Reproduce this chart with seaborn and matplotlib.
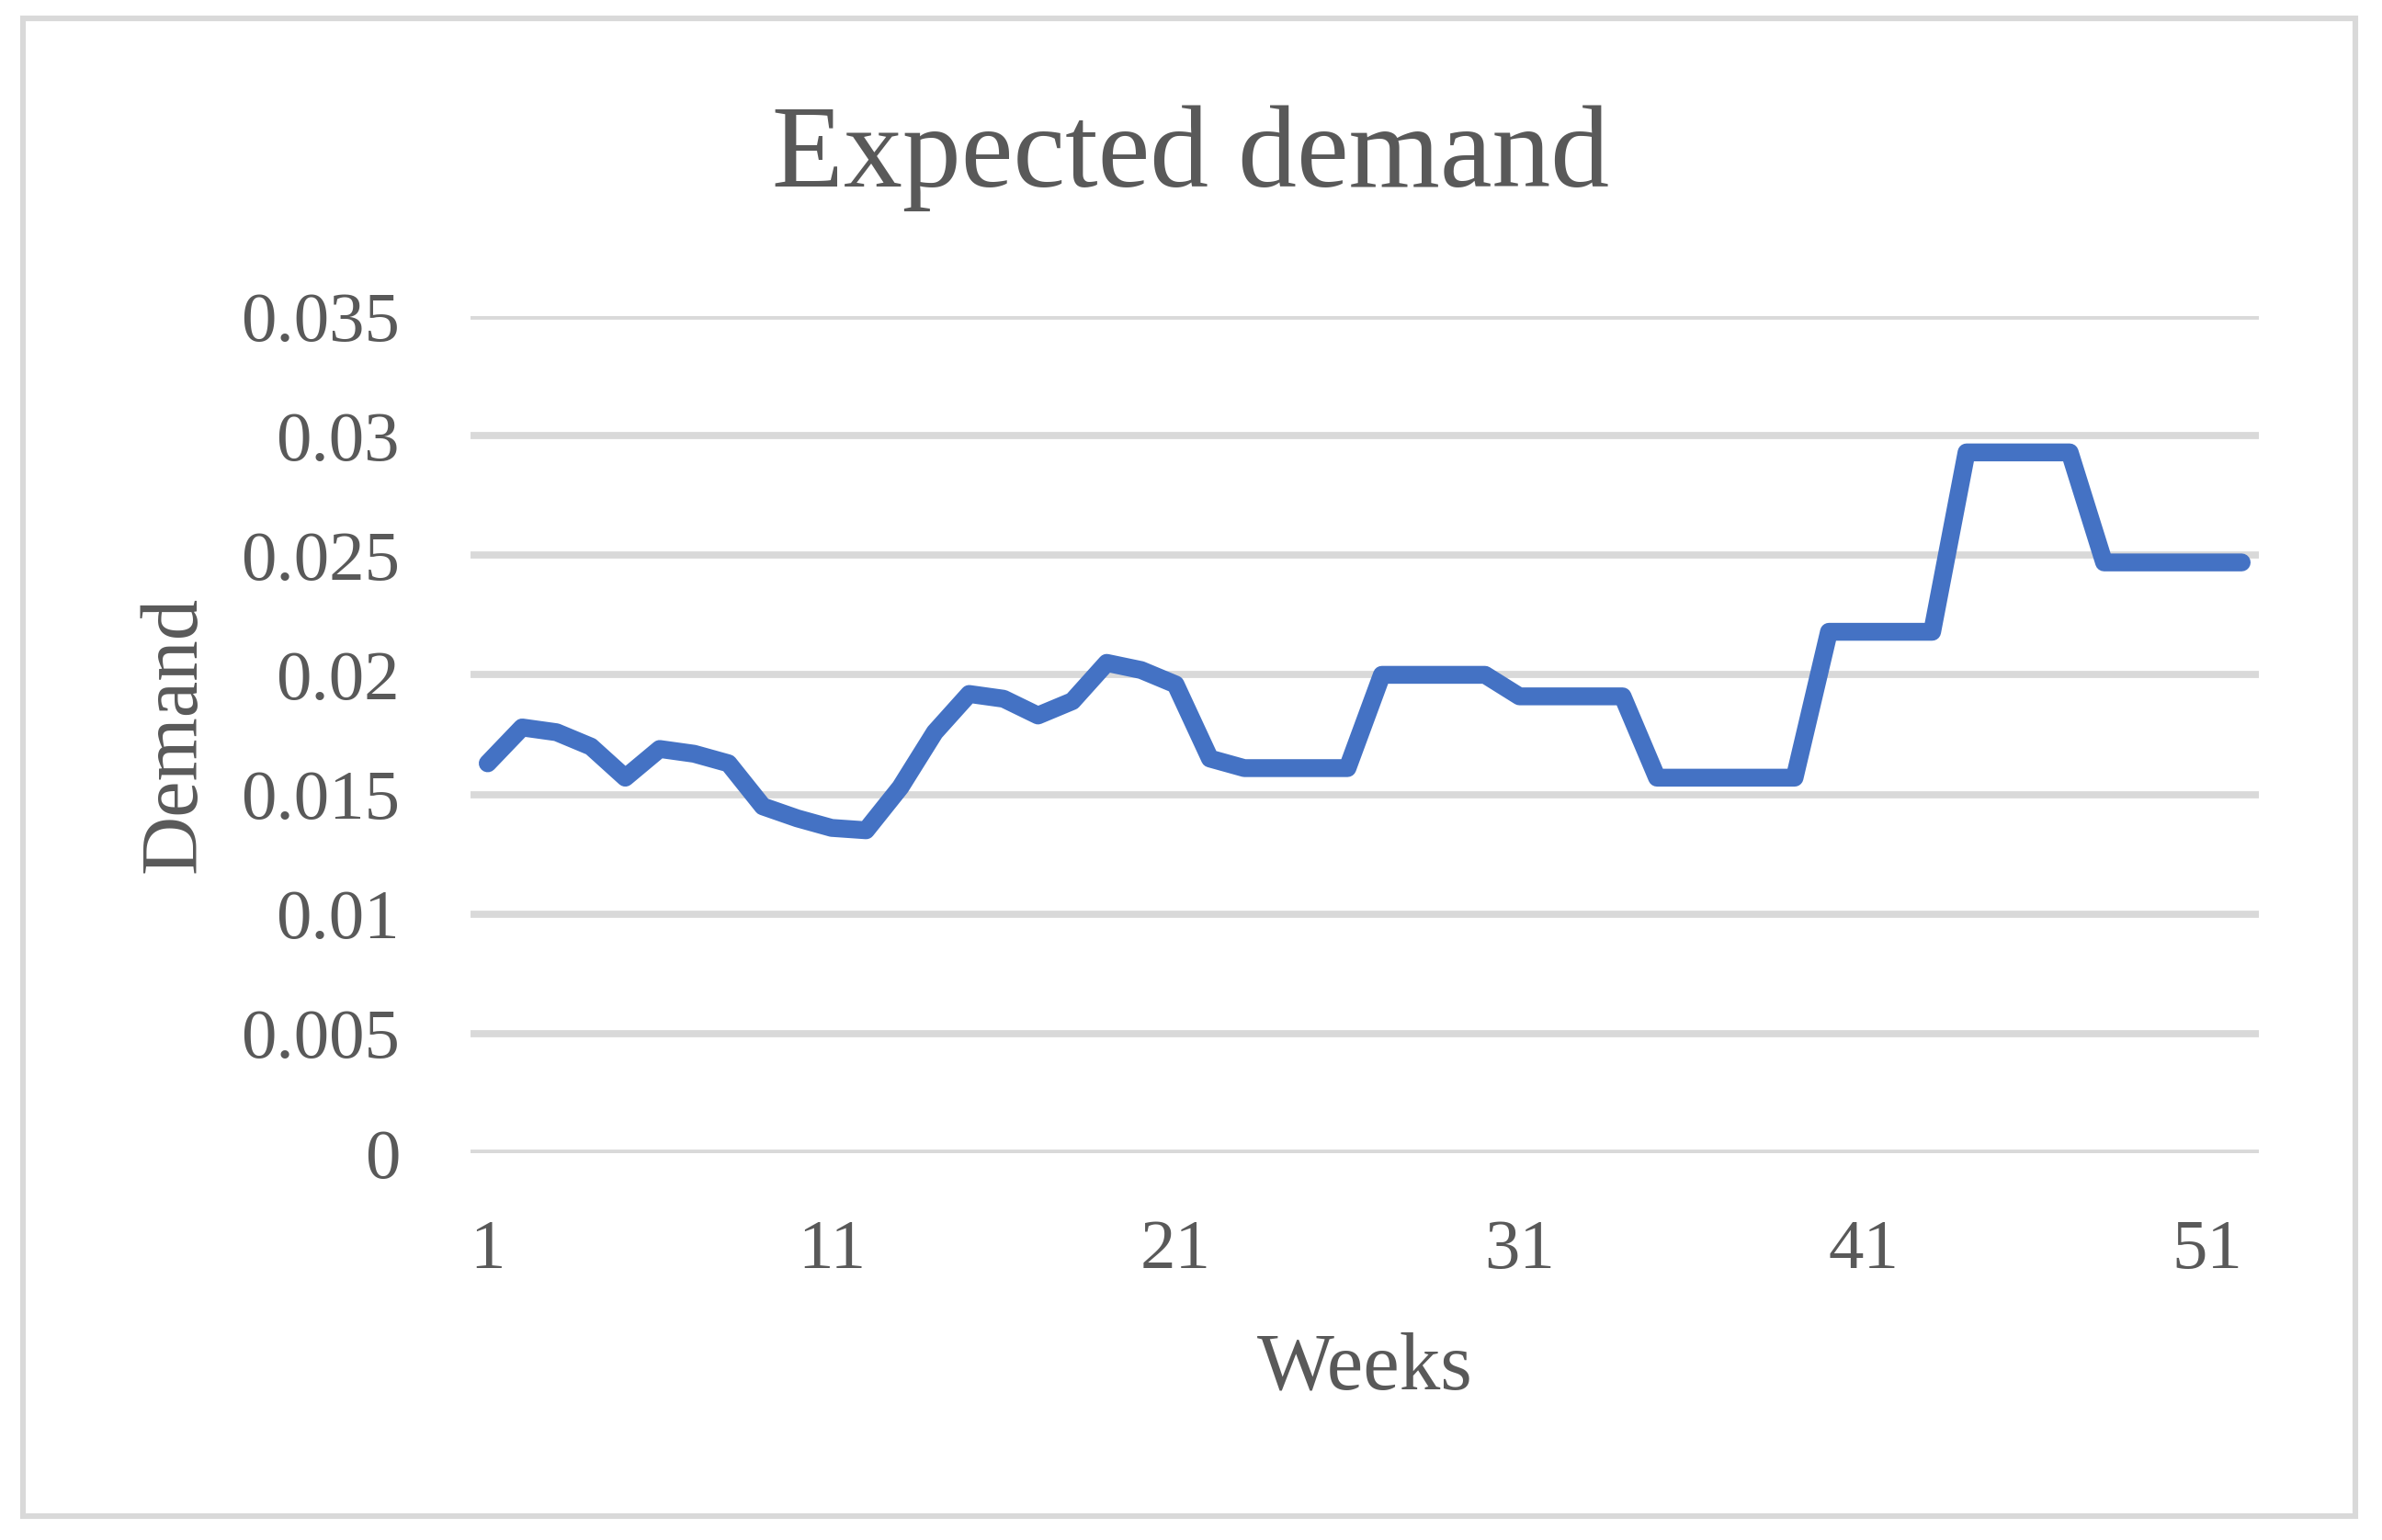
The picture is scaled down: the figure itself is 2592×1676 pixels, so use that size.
import seaborn as sns
import matplotlib.pyplot as plt
import pandas as pd
from matplotlib.patches import Rectangle

weeks = list(range(1, 53))
demand = [
    0.0163, 0.0178, 0.0176, 0.0170, 0.0157, 0.0169, 0.0167, 0.0163, 0.0145, 0.0140,
    0.0136, 0.0135, 0.0153, 0.0176, 0.0192, 0.0190, 0.0183, 0.0189, 0.0205, 0.0202,
    0.0196, 0.0165, 0.0161, 0.0161, 0.0161, 0.0161, 0.0200, 0.0200, 0.0200, 0.0200,
    0.0191, 0.0191, 0.0191, 0.0191, 0.0157, 0.0157, 0.0157, 0.0157, 0.0157, 0.0218,
    0.0218, 0.0218, 0.0218, 0.0293, 0.0293, 0.0293, 0.0293, 0.0247, 0.0247, 0.0247,
    0.0247, 0.0247,
]
xticks = [1, 11, 21, 31, 41, 51]
yticks = [0, 0.005, 0.01, 0.015, 0.02, 0.025, 0.03, 0.035]

TEXT = '#595959'
GRID = '#d9d9d9'

sns.set_style('white')
plt.rcParams['font.family'] = ['Liberation Serif', 'DejaVu Serif']

df = pd.DataFrame({'Weeks': weeks, 'Demand': demand})

fig = plt.figure(figsize=(12.96, 8.38), dpi=200)
ax = fig.add_axes([512 / 2592, 1 - 1255 / 1676, 1946 / 2592, 911 / 1676])

for y in yticks:
    ax.axhline(y, color=GRID, linewidth=2.8, zorder=0)

sns.lineplot(data=df, x='Weeks', y='Demand', ax=ax, color='#4472C4',
             linewidth=7, solid_capstyle='round', solid_joinstyle='round')
line = ax.lines[-1]
line.set_linewidth(7)
line.set_solid_capstyle('round')
line.set_solid_joinstyle('round')

ax.set_xlim(0.5, 52.5)
ax.set_ylim(0, 0.035)
ax.set_xticks(xticks)
ax.set_xticklabels([str(w) for w in xticks])
ax.set_yticks(yticks)
ax.set_yticklabels([f'{v:g}' for v in yticks])
ax.tick_params(axis='both', length=0, labelsize=27.7, labelcolor=TEXT)
ax.tick_params(axis='y', pad=27.7)
ax.tick_params(axis='x', pad=26)
for s in ax.spines.values():
    s.set_visible(False)

ax.set_xlabel('Weeks', fontsize=32, color=TEXT, labelpad=19)
ax.set_ylabel('Demand', fontsize=32, color=TEXT, labelpad=11)
# title is centred on the whole figure, not on the axes
fig.text(0.5, 1 - 203 / 1676, 'Expected demand', fontsize=46, color=TEXT,
         ha='center', va='baseline')

fig.patches.append(Rectangle((25 / 2592, 1 - 1650 / 1676), 2538 / 2592, 1630 / 1676,
                             transform=fig.transFigure, fill=False,
                             edgecolor=GRID, linewidth=2.2))

fig.savefig('out.png', dpi=200, facecolor='white')
